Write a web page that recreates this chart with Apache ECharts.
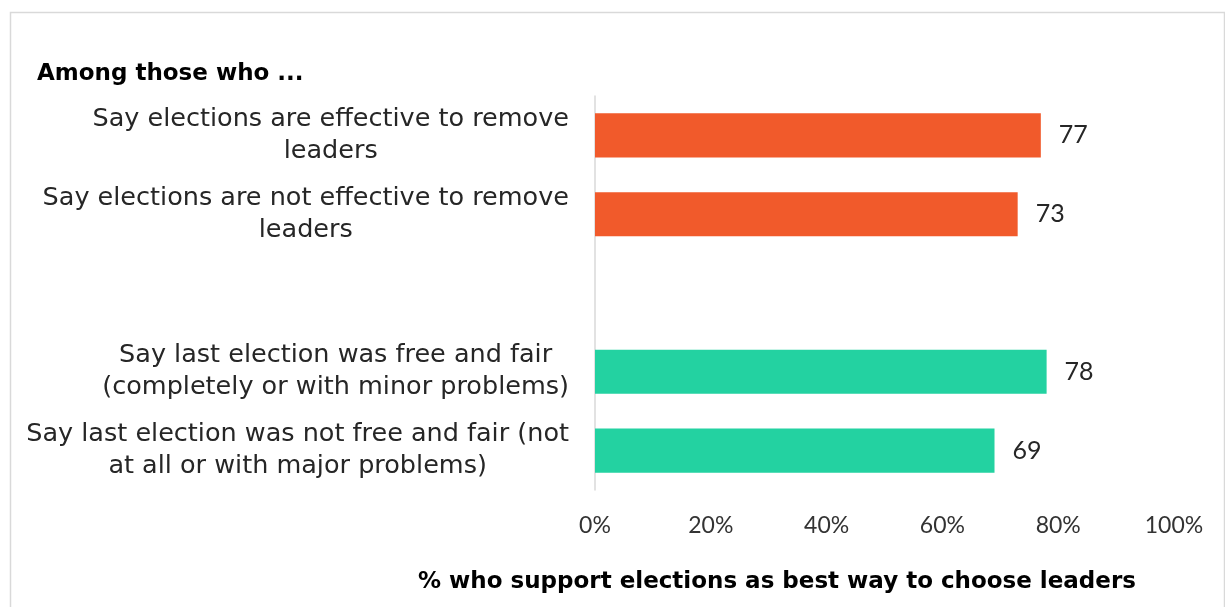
<!DOCTYPE html>
<html>
<head>
<meta charset="utf-8">
<script src="https://cdn.jsdelivr.net/npm/echarts@6/dist/echarts.min.js"></script>
<style>
html,body{margin:0;padding:0;background:#fff;}
#chart{width:1225px;height:607px;}
</style>
</head>
<body>
<div id="chart"></div>
<script>
const categories = [
  'Say elections are effective to remove\nleaders',
  'Say elections are not effective to remove\nleaders',
  '',
  'Say last election was free and fair\n(completely or with minor problems)',
  'Say last election was not free and fair (not\nat all or with major problems)'
];
const values = [77, 73, null, 78, 69];
const barColors = ['#F15A2B', '#F15A2B', '#F15A2B', '#23D2A1', '#23D2A1'];
const xTicks = [0, 20, 40, 60, 80, 100];
const groupTitle = 'Among those who ...';
const axisTitle = '% who support elections as best way to choose leaders';

const FONT = '"DejaVu Sans"';
const TICKFONT = 'Lato';
const chart = echarts.init(document.getElementById('chart'));
chart.setOption({
  backgroundColor: '#fff',
  animation: false,
  textStyle: { fontFamily: FONT },
  grid: { left: 595, right: 51, top: 96, bottom: 117, containLabel: false },
  xAxis: {
    type: 'value',
    min: xTicks[0],
    max: xTicks[xTicks.length - 1],
    interval: xTicks[1] - xTicks[0],
    axisLine: { show: false },
    axisTick: { show: false },
    splitLine: { show: false },
    axisLabel: { formatter: '{value}%', fontSize: 23, color: '#333', margin: 24, fontFamily: TICKFONT }
  },
  yAxis: {
    type: 'category',
    inverse: true,
    data: categories,
    axisLine: { show: true, lineStyle: { color: '#d9d9d9', width: 1.5 } },
    axisTick: { show: false },
    axisLabel: {
      margin: 26,
      color: '#262626',
      fontSize: 25.5,
      lineHeight: 32,
      fontFamily: FONT,
      formatter: function (v) {
        if (!v) return '';
        return v.split('\n').map(function (s) { return '{c|' + s + '}'; }).join('\n');
      },
      rich: { c: { align: 'center', fontSize: 25.5, lineHeight: 32, color: '#262626', fontFamily: FONT } }
    }
  },
  series: [{
    type: 'bar',
    data: values.map(function (v, i) { return { value: v, itemStyle: { color: barColors[i] } }; }),
    barCategoryGap: '44%',
    label: { show: true, position: 'right', distance: 18, fontSize: 25, color: '#262626', fontFamily: TICKFONT }
  }],
  graphic: [
    { type: 'rect', left: 8, top: 10, shape: { width: 1214, height: 640 }, style: { fill: 'none', stroke: '#d9d9d9', lineWidth: 1.5 }, silent: true },
    { type: 'text', x: 37, y: 74, style: { text: groupTitle, font: 'bold 23px ' + FONT, fill: '#000', verticalAlign: 'middle' } },
    { type: 'text', x: 777, y: 582, style: { text: axisTitle, font: 'bold 23px ' + FONT, fill: '#000', align: 'center', verticalAlign: 'middle' } }
  ]
});
</script>
</body>
</html>
